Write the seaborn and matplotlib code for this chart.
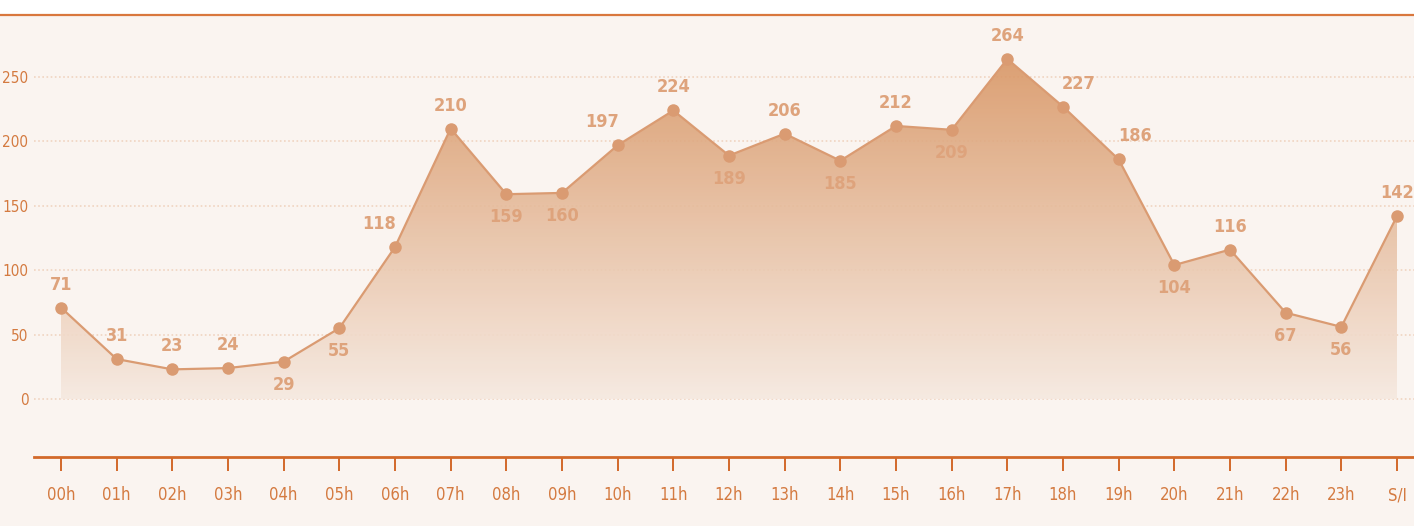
import numpy as np
import matplotlib
matplotlib.use("Agg")
import matplotlib.pyplot as plt
import seaborn as sns
import pandas as pd
from matplotlib.patches import Rectangle
from matplotlib.lines import Line2D

# Data
hours = ["00h", "01h", "02h", "03h", "04h", "05h", "06h", "07h", "08h", "09h",
         "10h", "11h", "12h", "13h", "14h", "15h", "16h", "17h", "18h", "19h",
         "20h", "21h", "22h", "23h", "S/I"]
counts = [71, 31, 23, 24, 29, 55, 118, 210, 159, 160,
          197, 224, 189, 206, 185, 212, 209, 264, 227, 186,
          104, 116, 67, 56, 142]
# where each value label sits relative to its point
label_side = ["a", "a", "a", "a", "b", "b", "al", "a", "b", "b",
              "al", "a", "b", "a", "b", "a", "b", "a", "ar", "ar",
              "b", "a", "b", "b", "a"]
yticks = [0, 50, 100, 150, 200, 250]

df = pd.DataFrame({"x": np.arange(len(hours)), "count": counts})

sns.set_style("white")
plt.rcParams["font.family"] = ["DejaVu Sans"]
plt.rcParams["font.stretch"] = "condensed"

W, H = 1414, 526
fig = plt.figure(figsize=(W / 100, H / 100), dpi=100, facecolor="white")

# cream panel below the top rule
bg = "#faf4f0"
fig.patches.append(Rectangle((0, 0), 1, (H - 15) / H, transform=fig.transFigure,
                             facecolor=bg, edgecolor="none", zorder=-10))
fig.lines.append(Line2D([0, 1], [(H - 15) / H] * 2, transform=fig.transFigure,
                        color="#d9773d", lw=1.6))

ax = fig.add_axes([34 / W, (H - 457) / H, (W - 34) / W, (457 - 15) / H])
ax.set_facecolor("none")

step = (1397 - 61) / 24
ppu = (399 - 77) / 250
xlim = ((34 - 61) / step, (1414 - 61) / step)
ylim = ((399 - 457) / ppu, (399 - 15) / ppu)

# gradient fill under the line
poly = ax.fill_between(df["x"], 0, df["count"], color="none", lw=0)
top_c = np.array(matplotlib.colors.to_rgb("#d89563"))
bot_c = np.array(matplotlib.colors.to_rgb("#f6e9e0"))
t = np.linspace(0, 1, 256)[:, None]
grad = (bot_c[None, :] * (1 - t) + top_c[None, :] * t)[:, None, :]
img = ax.imshow(grad, extent=[0, len(hours) - 1, 0, 270], origin="lower",
                aspect="auto", zorder=1, alpha=0.9)
img.set_clip_path(poly.get_paths()[0], transform=ax.transData)

line_c = "#da9b72"
sns.lineplot(data=df, x="x", y="count", ax=ax, color=line_c, lw=1.6,
             marker="o", markersize=9, markeredgewidth=0, zorder=3)
ax.set_xlim(*xlim)
ax.set_ylim(*ylim)

label_c = "#dea37c"
for xi, v, side in zip(df["x"], counts, label_side):
    if side == "a":
        off, va = (0, 14), "bottom"
    elif side == "b":
        off, va = (0, -14), "top"
    elif side == "al":
        off, va = (-16, 14), "bottom"
    else:
        off, va = (16, 14), "bottom"
    ax.annotate(str(v), (xi, v), xytext=off, textcoords="offset pixels",
                ha="center", va=va, fontsize=13, fontweight="bold", color=label_c,
                zorder=4)

ax.set_yticks(yticks)
ax.set_xticks(df["x"])
ax.set_xticklabels(hours)
ax.grid(axis="y", color="#f0d4c1", linestyle=(0, (1, 1.5)), lw=1.2)
ax.grid(axis="x", visible=False)
ax.set_axisbelow(True)

for s in ["top", "left", "right"]:
    ax.spines[s].set_visible(False)
ax.spines["bottom"].set_color("#d2692a")
ax.spines["bottom"].set_linewidth(2)

tick_c = "#d47a40"
ax.tick_params(axis="x", length=10, width=1.4, color="#d2692a", pad=11,
               labelsize=12, labelcolor=tick_c, bottom=True)
ax.tick_params(axis="y", length=0, pad=4, labelsize=11, labelcolor=tick_c)
ax.set_xlabel("")
ax.set_ylabel("")

fig.savefig("out.png", dpi=100, facecolor="white")
